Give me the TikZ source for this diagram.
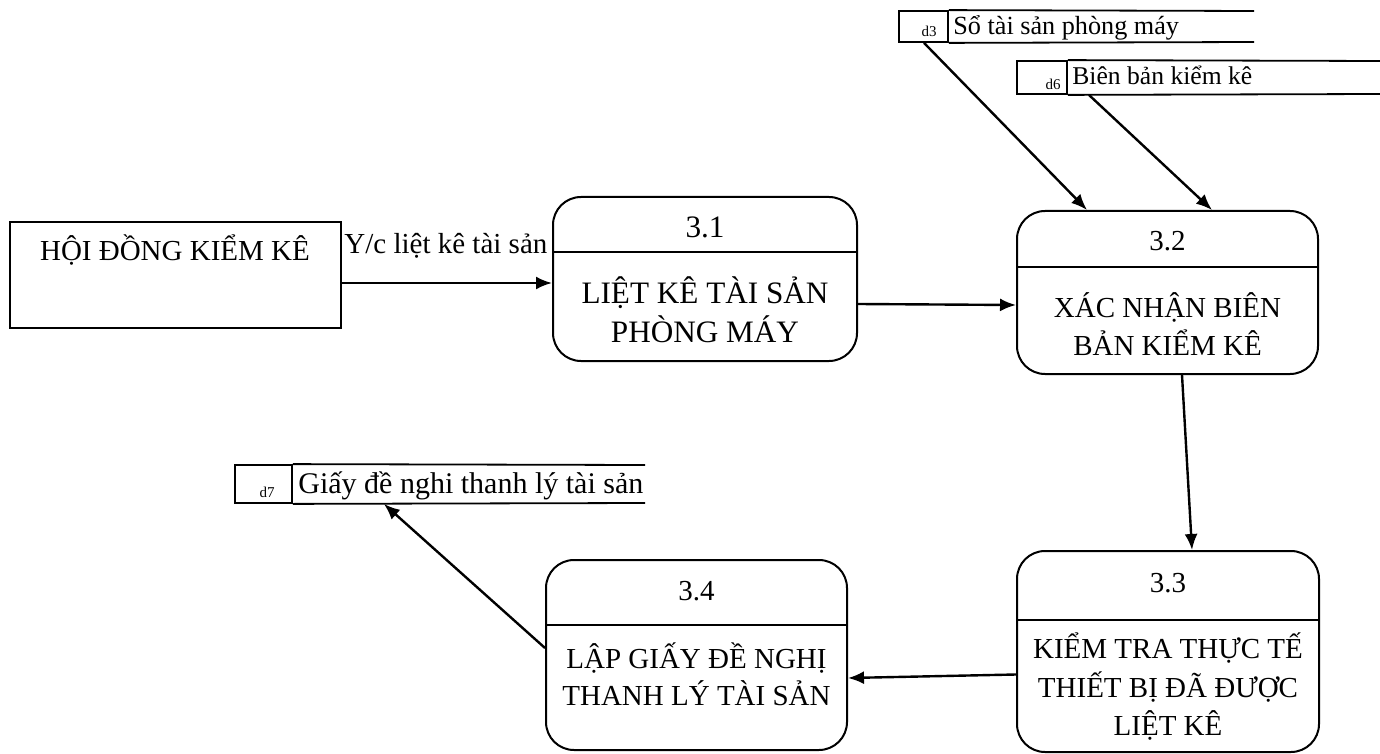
\documentclass[tikz,border=0pt]{standalone}
\usepackage{fontspec}
\setmainfont{Liberation Serif}
\usetikzlibrary{arrows.meta,calc,fit}
\begin{document}
\begin{tikzpicture}[x=0.5pt,y=-0.5pt,
  box/.style={draw,line width=1pt,inner sep=0pt},
  proc/.style={box,rounded corners=14pt},
  store/.style={draw,line width=0.9pt,inner sep=0pt},
  flow/.style={line width=1.2pt,-{Latex[length=8pt,width=6.5pt]}},
  big/.style={font=\fontsize{14.5}{17}\selectfont,inner sep=0pt,anchor=base},
  bigger/.style={big,font=\fontsize{15.6}{18}\selectfont},
  lbl/.style={font=\fontsize{14.5}{17}\selectfont,inner sep=0pt,anchor=base west},
  slbl/.style={font=\fontsize{13.1}{16}\selectfont,inner sep=0pt,anchor=base west},
  tiny/.style={font=\fontsize{7.5}{9}\selectfont,inner sep=0pt,anchor=base}]
\useasboundingbox (0,0) rectangle (1380,754);

% external entity
\node[box,fit={(10,222)(341,328)}] (ext) {};
\node[big] (extT) at (175,261) {HỘI ĐỒNG KIỂM KÊ};
\node[lbl] (flowlab) at (344,254) {Y/c liệt kê tài sản};

% process 3.1
\node[proc,fit={(553,197)(857,361)}] (p1) {};
\draw[line width=1pt] (p1.west |- 0,252) -- (p1.east |- 0,252);
\node[bigger] (p1n) at (705,237) {3.1};
\node[bigger] (p1a) at (705,303) {LIỆT KÊ TÀI SẢN};
\node[bigger] (p1b) at (705,342) {PHÒNG MÁY};

% process 3.2
\node[proc,fit={(1017,211)(1318,374)}] (p2) {};
\draw[line width=1pt] (p2.west |- 0,267) -- (p2.east |- 0,267);
\node[big] (p2n) at (1167.5,250) {3.2};
\node[big] (p2a) at (1167.5,317) {XÁC NHẬN BIÊN};
\node[big] (p2b) at (1167.5,355) {BẢN KIỂM KÊ};

% process 3.3
\node[proc,fit={(1017,551)(1319,752)}] (p3) {};
\draw[line width=1pt] (p3.west |- 0,620) -- (p3.east |- 0,620);
\node[big] (p3n) at (1168,592) {3.3};
\node[big] (p3a) at (1168,658) {KIỂM TRA THỰC TẾ};
\node[big] (p3b) at (1168,697) {THIẾT BỊ ĐÃ ĐƯỢC};
\node[big] (p3c) at (1168,735) {LIỆT KÊ};

% process 3.4
\node[proc,fit={(546,560)(847,750)}] (p4) {};
\draw[line width=1pt] (p4.west |- 0,625) -- (p4.east |- 0,625);
\node[big] (p4n) at (696.5,600) {3.4};
\node[big] (p4a) at (696.5,668) {LẬP GIẤY ĐỀ NGHỊ};
\node[big] (p4b) at (696.5,705) {THANH LÝ TÀI SẢN};

% data stores
\node[store,fit={(899,11)(948,42)}] (d3id) {};
\draw[store] (d3id.north east) -- (1254,11) (d3id.south east) -- (1254,42);
\node[tiny] (d3k) at (929,37) {d3};
\node[slbl] (d3t) at (953,35) {Sổ tài sản phòng máy};

\node[store,fit={(1017,61)(1067,94)}] (d6id) {};
\draw[store] (d6id.north east) -- (1380,61) (d6id.south east) -- (1380,94);
\node[tiny] (d6k) at (1053,90) {d6};
\node[slbl,font=\fontsize{12.8}{16}\selectfont] (d6t) at (1072,85) {Biên bản kiểm kê};

\node[store,fit={(235,465)(292,503)}] (d7id) {};
\draw[store] (d7id.north east) -- (645,465) (d7id.south east) -- (645,503);
\node[tiny] (d7k) at (267,497) {d7};
\node[lbl,font=\fontsize{15}{17}\selectfont] (d7t) at (298,493) {Giấy đề nghi thanh lý tài sản};

% data flows
\draw[flow] ($(ext.east)+(0,8)$) -- ($(p1.west)+(0,4)$);
\draw[flow] ($(p1.east)+(0,25)$) -- ($(p2.west)+(0,12.5)$);
\draw[flow] ($(d3id.south)+(0.5,0)$) -- ($(p2.north)+(-80.5,0)$);
\draw[flow] ($(d6id.south east)+(21,0)$) -- ($(p2.north)+(44.5,0)$);
\draw[flow] ($(p2.south)+(14.5,0)$) -- ($(p3.north)+(24,0)$);
\draw[flow] ($(p3.west)+(0,23)$) -- ($(p4.east)+(0,23)$);
\draw[flow] ($(p4.west)+(0,-7)$) -- ($(d7id.south east)+(91,0)$);
\end{tikzpicture}
\end{document}
